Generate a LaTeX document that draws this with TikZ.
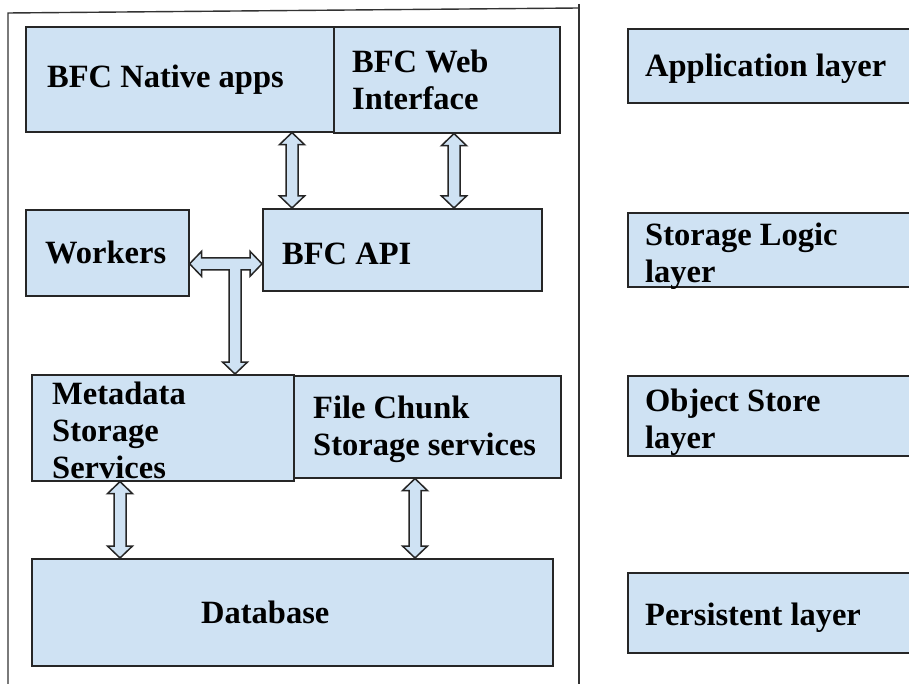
\documentclass[tikz,border=0pt]{standalone}
\usepackage{fontspec}
\setmainfont{Liberation Serif}
\usetikzlibrary{calc}
\definecolor{boxblue}{RGB}{207,226,243}
\newcommand\vdarrow[2]{\draw[dblarr] let \p1=(#1), \p2=(#2) in
  (\x1,\y1) -- (\x1+12.5pt,\y1-12pt) -- (\x1+6pt,\y1-12pt) -- (\x1+6pt,\y2+12pt)
  -- (\x1+12.5pt,\y2+12pt) -- (\x1,\y2) -- (\x1-12.5pt,\y2+12pt) -- (\x1-6pt,\y2+12pt)
  -- (\x1-6pt,\y1-12pt) -- (\x1-12.5pt,\y1-12pt) -- cycle;}
\begin{document}
\begin{tikzpicture}[x=1pt,y=-1pt,
  box/.style={draw=black!85, fill=boxblue, line width=1.6pt, anchor=north west, inner sep=0pt},
  lbl/.style={font=\bfseries\fontsize{32.5}{37}\selectfont, align=left, inner sep=0pt, anchor=west},
  dblarr/.style={draw=black!85, fill=boxblue, line width=1.5pt, line join=miter},
  frame/.style={draw=black!80, line width=1.4pt}]
\clip (0,0) rectangle (909,684);
\fill[white] (0,0) rectangle (909,684);
\draw[frame] (8,700) -- (8,13) -- (579,8);
\draw[frame] (579,4) -- (579,700);
% boxes
\node[box, minimum width=308pt, minimum height=105pt] (nat) at (25,26) {};
\node[box, minimum width=226pt, minimum height=106pt] (web) at (333,26) {};
\node[box, minimum width=163pt, minimum height=86pt] (wrk) at (25,209) {};
\node[box, minimum width=279pt, minimum height=82pt] (api) at (262,208) {};
\node[box, minimum width=262pt, minimum height=106pt] (meta) at (31,374) {};
\node[box, minimum width=267pt, minimum height=102pt] (fc) at (293,375) {};
\node[box, minimum width=521pt, minimum height=107pt] (db) at (31,558) {};
\node[box, minimum width=320pt, minimum height=74pt] (app) at (627,28) {};
\node[box, minimum width=320pt, minimum height=74pt] (slog) at (627,212) {};
\node[box, minimum width=320pt, minimum height=80pt] (obj) at (627,375) {};
\node[box, minimum width=320pt, minimum height=80pt] (pers) at (627,572) {};
% texts
\node[lbl] (tnat) at ([xshift=22pt]nat.west) {BFC Native apps};
\node[lbl] (tweb) at ([xshift=19pt]web.west) {BFC Web\\Interface};
\node[lbl] (twrk) at ([xshift=20pt]wrk.west) {Workers};
\node[lbl] (tapi) at ([xshift=20pt,yshift=-4pt]api.west) {BFC API};
\node[lbl] (tmeta) at ([xshift=21pt,yshift=-3pt]meta.west) {Metadata\\Storage\\Services};
\node[lbl] (tfc) at ([xshift=20pt,yshift=-3pt]fc.west) {File Chunk\\Storage services};
\node[lbl, anchor=center] (tdb) at ([xshift=-27pt]db.center) {Database};
\node[lbl] (tapp) at ([xshift=18pt,yshift=-3pt]app.west) {Application layer};
\node[lbl] (tslog) at ([xshift=18pt,yshift=-6pt]slog.west) {Storage Logic\\layer};
\node[lbl] (tobj) at ([xshift=18pt,yshift=-6pt]obj.west) {Object Store\\layer};
\node[lbl] (tpers) at ([xshift=18pt,yshift=-5pt]pers.west) {Persistent layer};
% arrows
\vdarrow{[xshift=267pt]nat.south west}{[xshift=30pt]api.north west}
\vdarrow{[xshift=121pt]web.south west}{[xshift=192pt]api.north west}
\vdarrow{[xshift=89pt]meta.south west}{[xshift=89pt]db.north west}
\vdarrow{[xshift=122pt]fc.south west}{[xshift=384pt]db.north west}
\draw[dblarr] let \p1=([yshift=-11pt]wrk.east), \p2=([yshift=-14pt]api.west), \p3=([xshift=204pt]meta.north west) in
  (\x1,\y1) -- (\x1+12pt,\y1+12.5pt) -- (\x1+12pt,\y1+6pt) -- (\x2-12pt,\y1+6pt)
  -- (\x2-12pt,\y1+12.5pt) -- (\x2,\y1) -- (\x2-12pt,\y1-12.5pt) -- (\x2-12pt,\y1-6pt)
  -- (\x3+6pt,\y1-6pt) -- (\x3+6pt,\y3+12pt) -- (\x3+12.5pt,\y3+12pt) -- (\x3,\y3)
  -- (\x3-12.5pt,\y3+12pt) -- (\x3-6pt,\y3+12pt) -- (\x3-6pt,\y1-6pt)
  -- (\x1+12pt,\y1-6pt) -- (\x1+12pt,\y1-12.5pt) -- cycle;
\end{tikzpicture}
\end{document}
